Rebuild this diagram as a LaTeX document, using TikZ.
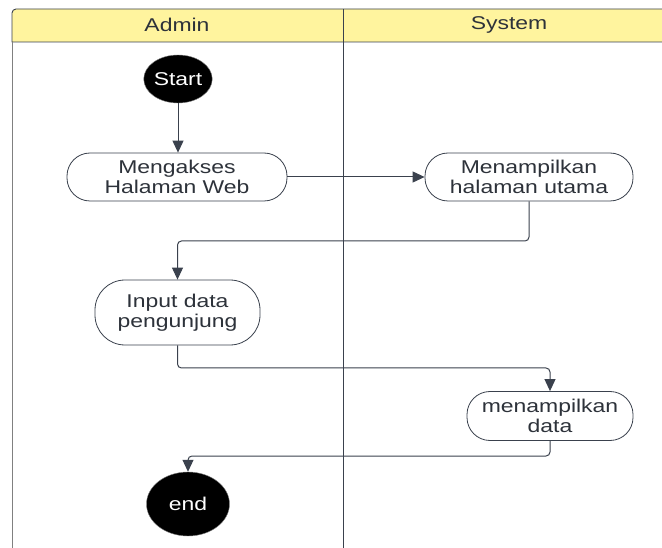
\documentclass[tikz,border=0pt]{standalone}
\usepackage{fontspec}
\setmainfont{Liberation Sans}[FakeStretch=1.24]
\usetikzlibrary{positioning,calc,arrows.meta,shapes.geometric}
\definecolor{headfill}{RGB}{255,244,158}
\definecolor{inkgray}{RGB}{58,65,77}
\definecolor{txtgray}{RGB}{45,50,58}
\begin{document}
\begin{tikzpicture}[x=1pt,y=-1pt]
    \tikzstyle{every node}=[font=\fontsize{18.5}{19.5}\selectfont,text=txtgray,align=center,inner sep=0]
    \tikzstyle{lane}=[draw=inkgray,line width=0.9]
    \tikzstyle{head}=[lane,fill=headfill]
    \tikzstyle{activity}=[draw=inkgray,fill=white,rounded corners=23,line width=0.8]
    \tikzstyle{terminal}=[ellipse,fill=black,draw=gray,text=white]
    \tikzstyle{flow}=[draw=inkgray,line width=1,rounded corners=4,-{Triangle[width=11pt,length=12pt]}]
    \useasboundingbox (0,0) rectangle (662,548);

    % swimlanes
    \filldraw[head,rounded corners=4] (12,42) |- (690,9) [sharp corners] -- (690,42) -- cycle;
    \draw[lane,draw=gray] (12,42) -- (12,548);
    \draw[lane] (343,9) -- (343,548);
    \node (adminhd) at (177,25) {Admin};
    \node (systemhd) at (509,25) {System};

    % activities
    \node[terminal,minimum width=63,minimum height=48] (start) at (178,79) {Start};
    \node[activity,minimum width=220,minimum height=48] (akses) at (177,177) {Mengakses\\Halaman Web};
    \node[activity,minimum width=208,minimum height=48] (utama) at (529,177) {Menampilkan\\halaman utama};
    \node[activity,minimum width=165,minimum height=65,rounded corners=30] (input) at (177.5,312.5) {Input data\\pengunjung};
    \node[activity,minimum width=166,minimum height=49] (data) at (550,416) {menampilkan\\data};
    \node[terminal,minimum width=83,minimum height=64] (end) at (188,504) {end};

    \coordinate (turnA) at (0,241);
    \coordinate (turnB) at (0,368);
    \coordinate (turnC) at (0,456);

    % flows
    \draw[flow] (start) -- (start |- akses.north);
    \draw[flow] (akses) -- (utama);
    \draw[flow] (utama.south) -- (utama.south |- turnA) -| (input.north);
    \draw[flow] (input.south) -- (input.south |- turnB) -| (data.north);
    \draw[flow] (data.south) -- (data.south |- turnC) -| (end.north);
\end{tikzpicture}
\end{document}
